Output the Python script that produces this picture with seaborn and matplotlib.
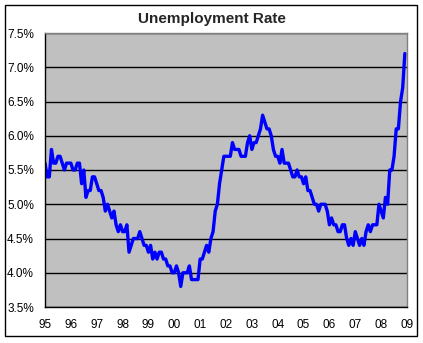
import matplotlib
matplotlib.use('Agg')
import matplotlib.pyplot as plt
from matplotlib.patches import Rectangle
import seaborn as sns
import pandas as pd

# monthly unemployment rate (%), Jan..Dec of each year
rate_1995 = [5.6, 5.4, 5.4, 5.8, 5.6, 5.6, 5.7, 5.7, 5.6, 5.5, 5.6, 5.6]
rate_1996 = [5.6, 5.5, 5.5, 5.6, 5.6, 5.3, 5.5, 5.1, 5.2, 5.2, 5.4, 5.4]
rate_1997 = [5.3, 5.2, 5.2, 5.1, 4.9, 5.0, 4.9, 4.8, 4.9, 4.7, 4.6, 4.7]
rate_1998 = [4.6, 4.6, 4.7, 4.3, 4.4, 4.5, 4.5, 4.5, 4.6, 4.5, 4.4, 4.4]
rate_1999 = [4.3, 4.4, 4.2, 4.3, 4.2, 4.3, 4.3, 4.2, 4.2, 4.1, 4.1, 4.0]
rate_2000 = [4.0, 4.1, 4.0, 3.8, 4.0, 4.0, 4.0, 4.1, 3.9, 3.9, 3.9, 3.9]
rate_2001 = [4.2, 4.2, 4.3, 4.4, 4.3, 4.5, 4.6, 4.9, 5.0, 5.3, 5.5, 5.7]
rate_2002 = [5.7, 5.7, 5.7, 5.9, 5.8, 5.8, 5.8, 5.7, 5.7, 5.7, 5.9, 6.0]
rate_2003 = [5.8, 5.9, 5.9, 6.0, 6.1, 6.3, 6.2, 6.1, 6.1, 6.0, 5.8, 5.7]
rate_2004 = [5.7, 5.6, 5.8, 5.6, 5.6, 5.6, 5.5, 5.4, 5.4, 5.5, 5.4, 5.4]
rate_2005 = [5.3, 5.4, 5.2, 5.2, 5.1, 5.0, 5.0, 4.9, 5.0, 5.0, 5.0, 4.9]
rate_2006 = [4.7, 4.8, 4.7, 4.7, 4.6, 4.6, 4.7, 4.7, 4.5, 4.4, 4.5, 4.4]
rate_2007 = [4.6, 4.5, 4.4, 4.5, 4.4, 4.6, 4.7, 4.6, 4.7, 4.7, 4.7, 5.0]
rate_2008 = [4.9, 4.8, 5.1, 5.0, 5.5, 5.5, 5.7, 6.1, 6.1, 6.5, 6.7, 7.2]

years = list(range(1995, 2009))
y_ticks = [3.5, 4.0, 4.5, 5.0, 5.5, 6.0, 6.5, 7.0, 7.5]
y_labels = ['3.5%', '4.0%', '4.5%', '5.0%', '5.5%', '6.0%', '6.5%', '7.0%', '7.5%']
x_ticks = list(range(1995, 2010))
x_labels = ['95', '96', '97', '98', '99', '00', '01', '02', '03', '04',
            '05', '06', '07', '08', '09']

all_rates = [rate_1995, rate_1996, rate_1997, rate_1998, rate_1999, rate_2000,
             rate_2001, rate_2002, rate_2003, rate_2004, rate_2005, rate_2006,
             rate_2007, rate_2008]
rows = []
for yr, vals in zip(years, all_rates):
    for m, v in enumerate(vals):
        rows.append({'time': yr + m / 12, 'rate': v})
df = pd.DataFrame(rows)

sns.set_style('white')
plt.rcParams['font.family'] = ['Liberation Sans', 'DejaVu Sans']

fig = plt.figure(figsize=(4.23, 3.43), dpi=100)
ax = fig.add_axes([45 / 423, 36 / 343, 362 / 423, 274 / 343])

sns.lineplot(data=df, x='time', y='rate', color='#0000FF', linewidth=2.4, ax=ax)

ax.set_facecolor('#C0C0C0')
ax.set_xlim(1995, 2009)
ax.set_ylim(3.5, 7.5)
ax.set_yticks(y_ticks)
ax.set_yticklabels(y_labels)
ax.set_xticks(x_ticks)
ax.set_xticklabels(x_labels)
ax.set_xlabel('')
ax.set_ylabel('')
ax.tick_params(direction='out', length=3, width=1, colors='black', labelsize=8.5)
ax.tick_params(axis='y', pad=5)
ax.tick_params(axis='x', pad=6)
ax.yaxis.grid(True, color='black', linewidth=1)
ax.set_axisbelow(True)

for side in ['left', 'bottom']:
    ax.spines[side].set_color('black')
    ax.spines[side].set_linewidth(1)
for side in ['top', 'right']:
    ax.spines[side].set_color('#808080')
    ax.spines[side].set_linewidth(1)

fig.text(212 / 423, 1 - 19 / 343, 'Unemployment Rate', ha='center', va='center',
         fontsize=11, fontweight='bold')

# chart border
fig.patches.append(Rectangle((5 / 423, 7 / 343), 412 / 423, 331 / 343,
                             transform=fig.transFigure, fill=False,
                             edgecolor='black', linewidth=1))

fig.savefig('out.png', dpi=100)
